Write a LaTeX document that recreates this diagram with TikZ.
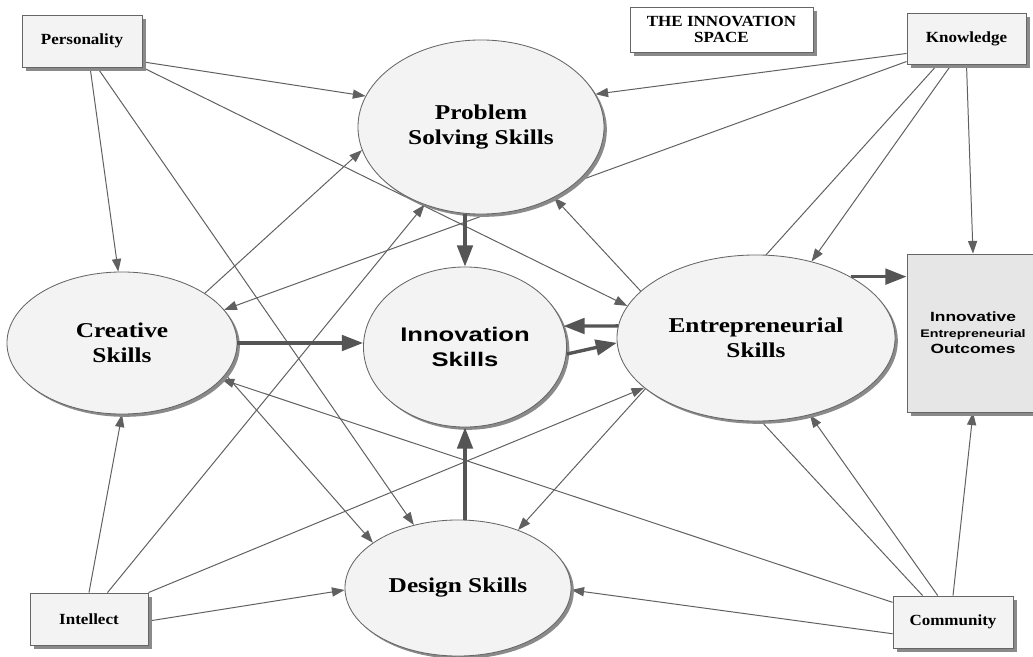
\documentclass[tikz,border=0pt]{standalone}
\usepackage{fontspec}
\usepackage{tikz}
\usetikzlibrary{shapes.geometric,arrows.meta,shadows,backgrounds}

\newfontfamily\boxfont[FakeStretch=1.1]{Liberation Serif}
\newfontfamily\skillfont[FakeStretch=1.2]{Liberation Serif}
\newfontfamily\innfont[FakeStretch=1.3]{Liberation Sans}

\definecolor{linegray}{HTML}{606060}
\definecolor{tipgray}{HTML}{555555}
\definecolor{shapefill}{HTML}{F3F3F3}
\definecolor{resultfill}{HTML}{E6E6E6}
\definecolor{shadowgray}{HTML}{8A8A8A}

\tikzset{
  factor/.style={draw=black!60, line width=0.6pt, fill=shapefill, inner sep=0pt,
    font=\boxfont\bfseries\fontsize{11}{11.8}\selectfont,
    drop shadow={shadow xshift=2.8pt, shadow yshift=-2.8pt, fill=shadowgray, opacity=1}},
  skill/.style={ellipse, draw=black!60, line width=0.6pt, fill=shapefill, inner sep=0pt,
    align=center, font=\skillfont\bfseries\fontsize{15}{18}\selectfont,
    drop shadow={shadow xshift=2pt, shadow yshift=-2pt, fill=shadowgray, opacity=1}},
  link/.style={draw=linegray, line width=0.7pt, -{Triangle[length=9pt,width=6.5pt]}},
  mainlink/.style={draw=tipgray, line width=2.4pt, -{Triangle[length=15pt,width=11pt]}},
}

\begin{document}
\begin{tikzpicture}[x=0.025cm, y=-0.025cm]
\useasboundingbox (0,0) rectangle (1033,657);

% outer factors
\node[factor, minimum width=3cm, minimum height=1.3cm] (pers) at (82,41) {Personality};
\node[factor, minimum width=2.975cm, minimum height=1.275cm] (know) at (966.5,38.5) {Knowledge};
\node[factor, minimum width=2.95cm, minimum height=1.3cm] (int) at (89,619) {Intellect};
\node[factor, minimum width=3cm, minimum height=1.3cm] (com) at (953,622) {Community};
\node[factor, fill=white, align=center, minimum width=4.575cm, minimum height=1.125cm]
  (title) at (721.5,29.5) {THE INNOVATION\\SPACE};

% skills
\node[skill, minimum width=6.15cm, minimum height=4.35cm] (ps) at (481,127) {Problem\\Solving Skills};
\node[skill, minimum width=5.75cm, minimum height=3.55cm] (cre) at (122,343) {Creative\\Skills};
\node[skill, minimum width=5.075cm, minimum height=4cm,
  font=\innfont\bfseries\fontsize{14}{17.8}\selectfont] (inn) at (465,347) {Innovation\\Skills};
\node[skill, minimum width=6.95cm, minimum height=4.15cm] (ent) at (756,338) {Entrepreneurial\\Skills};
\node[skill, minimum width=5.65cm, minimum height=3.4cm] (des) at (458,588) {Design Skills};

\node[factor, fill=resultfill, align=center, minimum width=3.3cm, minimum height=3.95cm,
  font=\innfont\bfseries\fontsize{9.5}{11.4}\selectfont] (out) at (973,333)
  {Innovative\\{\fontsize{7.8}{11.4}\selectfont Entrepreneurial}\\Outcomes};

\begin{scope}[on background layer]
  \fill[white] (0,0) rectangle (1033,657);
  % personality
  \draw[link] (pers.-19) -- (ps.165);
  \draw[link] (pers.south east) -- (ent.166);
  \draw[link] (pers.-73) -- (cre.93);
  \draw[link] (pers.-60) -- (des.125);
  % knowledge
  \draw[link] (know.194) -- (ps.16);
  \draw[link] (know.201) -- (cre.18);
  \draw[link] (know.-120) -- (ent.54);
  \draw[link] (know.-138) -- (des.44);
  \draw[link] (know.south) -- (out.north);
  % intellect
  \draw[link] (int.north) -- (cre.south);
  \draw[link] (int.55) -- (ps.234);
  \draw[link] (int.north east) -- (ent.204);
  \draw[link] (int.-2) -- (des.181);
  % community
  \draw[link] (com.-169) -- (des.-1);
  \draw[link] (com.162) -- (cre.-20);
  \draw[link] (com.120) -- (ent.-55);
  \draw[link] (com.139) -- (ps.-44);
  \draw[link] (com.north) -- (out.south);
  % creative
  \draw[link] (cre.31) -- (ps.191);
  \draw[link] (cre.-17) -- (des.152);
\end{scope}

% main flows
\draw[mainlink] (cre.east) -- (cre.east -| inn.west);
\draw[mainlink] (inn.north |- ps.south) -- (inn.north);
\draw[mainlink] (inn.south |- des.north) -- (inn.south);
\draw[mainlink] (ent.175) -- (inn.12);
\draw[mainlink] (inn.-4) -- (ent.182);
\draw[mainlink] (ent.33) -- (ent.33 -| out.west);
\end{tikzpicture}
\end{document}
